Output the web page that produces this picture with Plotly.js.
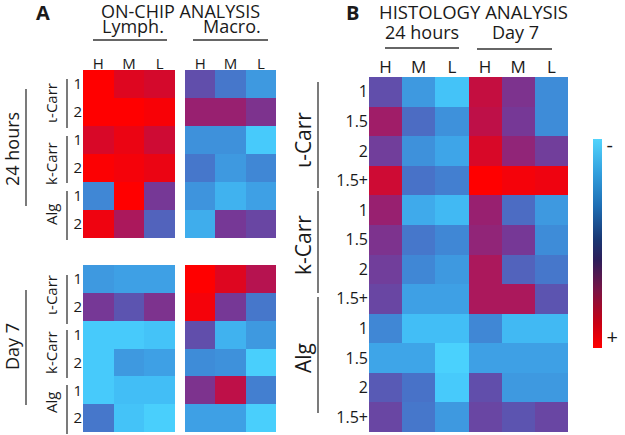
<!DOCTYPE html>
<html><head><meta charset="utf-8">
<script src="https://cdn.plot.ly/plotly-3.0.1.min.js"></script>
<style>html,body{margin:0;padding:0;background:#fff}#chart{width:625px;height:435px}</style>
</head><body><div id="chart"></div>
<script>
// ---------- DATA (0 = strongest "+", 1 = strongest "-") ----------
const doseCols = ['H', 'M', 'L'];
const onChipRowLabels = ['1', '2', '1', '2', '1', '2'];
const onChipGroups = ['ι-Carr', 'k-Carr', 'Alg'];
const timeGroups = ['24 hours', 'Day 7'];
const cellTypes = ['Lymph.', 'Macro.'];

const lymph24h = [
  [0.00, 0.10, 0.13],
  [0.00, 0.00, 0.02],
  [0.12, 0.06, 0.15],
  [0.01, 0.03, 0.06],
  [0.68, 0.00, 0.40],
  [0.05, 0.25, 0.55]
];
const macro24h = [
  [0.48, 0.62, 0.75],
  [0.30, 0.30, 0.38],
  [0.72, 0.72, 0.95],
  [0.62, 0.75, 0.68],
  [0.73, 0.85, 0.78],
  [0.83, 0.40, 0.45]
];
const lymphDay7 = [
  [0.75, 0.78, 0.78],
  [0.40, 0.50, 0.38],
  [0.95, 0.95, 0.92],
  [0.95, 0.75, 0.78],
  [0.95, 0.90, 0.90],
  [0.62, 0.92, 0.97]
];
const macroDay7 = [
  [0.00, 0.10, 0.22],
  [0.03, 0.40, 0.62],
  [0.48, 0.85, 0.75],
  [0.70, 0.72, 0.97],
  [0.38, 0.20, 0.65],
  [0.78, 0.78, 0.97]
];

const histColLabels = ['H', 'M', 'L', 'H', 'M', 'L'];
const histRowLabels = ['1', '1.5', '2', '1.5+', '1', '1.5', '2', '1.5+', '1', '1.5', '2', '1.5+'];
const histGroups = ['ι-Carr', 'k-Carr', 'Alg'];
const histology = [
  [0.48, 0.75, 0.92, 0.18, 0.38, 0.70],
  [0.28, 0.58, 0.72, 0.20, 0.40, 0.70],
  [0.42, 0.72, 0.80, 0.12, 0.32, 0.42],
  [0.15, 0.60, 0.65, 0.00, 0.03, 0.05],
  [0.30, 0.82, 0.88, 0.30, 0.58, 0.75],
  [0.38, 0.62, 0.68, 0.32, 0.40, 0.70],
  [0.42, 0.68, 0.75, 0.25, 0.55, 0.62],
  [0.45, 0.78, 0.78, 0.25, 0.25, 0.50],
  [0.68, 0.90, 0.90, 0.68, 0.88, 0.88],
  [0.80, 0.80, 0.98, 0.78, 0.78, 0.78],
  [0.52, 0.60, 0.95, 0.48, 0.75, 0.75],
  [0.45, 0.62, 0.75, 0.45, 0.50, 0.45]
];
const scaleLabels = ['+', '-'];

// ---------- STYLE ----------
const W = 625, H = 435;
const px = x => x / W;
const py = y => 1 - y / H;
const FONT = 'Open Sans, Noto Sans, sans-serif';
const TXT = '#1a1a1a';

const cellScale = [
  [0.00, 'rgb(255,0,0)'],
  [0.10, 'rgb(222,6,32)'],
  [0.20, 'rgb(190,16,72)'],
  [0.30, 'rgb(152,32,112)'],
  [0.40, 'rgb(118,56,150)'],
  [0.50, 'rgb(92,84,176)'],
  [0.60, 'rgb(72,114,200)'],
  [0.70, 'rgb(62,140,216)'],
  [0.80, 'rgb(62,165,232)'],
  [0.90, 'rgb(66,190,246)'],
  [1.00, 'rgb(76,214,255)']
];
const barScale = [
  [0.00, 'rgb(255,0,0)'],
  [0.12, 'rgb(200,0,20)'],
  [0.28, 'rgb(120,20,70)'],
  [0.42, 'rgb(45,30,90)'],
  [0.52, 'rgb(25,55,115)'],
  [0.68, 'rgb(30,110,180)'],
  [0.84, 'rgb(50,160,222)'],
  [1.00, 'rgb(82,212,252)']
];

function hm(z, xa, ya) {
  return {type: 'heatmap', z: z, xaxis: xa, yaxis: ya, zmin: 0, zmax: 1,
    colorscale: cellScale, showscale: false, hoverinfo: 'skip'};
}

const traces = [
  hm(lymph24h, 'x', 'y'),
  hm(macro24h, 'x2', 'y2'),
  hm(lymphDay7, 'x3', 'y3'),
  hm(macroDay7, 'x4', 'y4'),
  hm(histology, 'x5', 'y5'),
  {type: 'scatter', mode: 'markers', x: [null], y: [null], xaxis: 'x5', yaxis: 'y5',
   hoverinfo: 'skip', showlegend: false,
   marker: {color: [0], cmin: 0, cmax: 1, colorscale: barScale, showscale: true,
     colorbar: {thickness: 9, len: 209 / H, lenmode: 'fraction', x: px(593), xanchor: 'left',
       y: py(243.5), yanchor: 'middle', xpad: 0, ypad: 0, outlinewidth: 0, ticks: '',
       tickvals: [0.053, 0.97], ticktext: scaleLabels,
       tickfont: {family: FONT, size: 20, color: TXT}}}}
];

const rowIdxA = onChipRowLabels.map((_, i) => i);
const rowIdxB = histRowLabels.map((_, i) => i);
const colIdxA = doseCols.map((_, i) => i);
const colIdxB = histColLabels.map((_, i) => i);

function xax(dom, anchor, labels, idx, show, size, standoff) {
  return {domain: dom, anchor: anchor, side: 'top', range: [-0.5, idx.length - 0.5],
    tickmode: 'array', tickvals: idx, ticktext: labels, showticklabels: show, ticks: '',
    ticklabelstandoff: standoff,
    showgrid: false, zeroline: false, showline: false, fixedrange: true,
    tickfont: {family: FONT, size: size, color: TXT}};
}
function yax(dom, anchor, labels, idx, show, size) {
  return {domain: dom, anchor: anchor, range: [idx.length - 0.5, -0.5],
    tickmode: 'array', tickvals: idx, ticktext: labels, showticklabels: show, ticks: '',
    showgrid: false, zeroline: false, showline: false, fixedrange: true,
    tickfont: {family: FONT, size: size, color: TXT}};
}

const dLx = [px(83), px(175)], dMx = [px(185), px(276)];
const dTop = [py(238), py(70)], dBot = [py(432), py(265)];
const dBx = [px(369), px(568)], dBy = [py(432), py(77)];

function ann(text, x, y, size, opts) {
  return Object.assign({text: text, x: px(x), y: py(y), xref: 'paper', yref: 'paper',
    showarrow: false, xanchor: 'center', yanchor: 'middle', borderpad: 0,
    font: {family: FONT, size: size, color: TXT}}, opts || {});
}
function vline(x, y0, y1) {
  return {type: 'line', xref: 'paper', yref: 'paper', x0: px(x), x1: px(x), y0: py(y0), y1: py(y1),
    line: {color: '#333', width: 1.3}};
}
function hline(x0, x1, y) {
  return {type: 'line', xref: 'paper', yref: 'paper', x0: px(x0), x1: px(x1), y0: py(y), y1: py(y),
    line: {color: '#333', width: 1.3}};
}

const annotations = [
  ann('<b>A</b>', 43, 13, 20),
  ann('ON-CHIP ANALYSIS', 180, 11, 18),
  ann(cellTypes[0], 133, 26, 18),
  ann(cellTypes[1], 232, 26, 18),
  ann(timeGroups[0], 12, 149, 18, {textangle: -90}),
  ann(timeGroups[1], 12, 346, 18, {textangle: -90}),
  ann(onChipGroups[0], 51, 103, 15, {textangle: -90}),
  ann(onChipGroups[1], 51, 164, 15, {textangle: -90}),
  ann(onChipGroups[2], 51, 215, 15, {textangle: -90}),
  ann(onChipGroups[0], 51, 295, 15, {textangle: -90}),
  ann(onChipGroups[1], 51, 353, 15, {textangle: -90}),
  ann(onChipGroups[2], 51, 403, 15, {textangle: -90}),
  ann('<b>B</b>', 352, 13, 20),
  ann('HISTOLOGY ANALYSIS', 473, 11, 18.5),
  ann(timeGroups[0], 422, 32, 18),
  ann(timeGroups[1], 515, 32, 18),
  ann(histGroups[0], 303, 140, 21, {textangle: -90}),
  ann(histGroups[1], 303, 245, 21, {textangle: -90}),
  ann(histGroups[2], 303, 358, 21, {textangle: -90})
];

const shapes = [
  hline(93, 167, 40), hline(193, 268, 40),
  hline(385, 459, 48), hline(477, 552, 49),
  vline(26, 89, 206), vline(26, 290, 405),
  vline(67, 79, 128), vline(67, 136, 183), vline(67, 191, 240),
  vline(67, 275, 324), vline(67, 330, 378), vline(67, 385, 434),
  vline(318, 82, 188), vline(318, 191, 293), vline(318, 297, 413)
];

const layout = {
  width: W, height: H, margin: {l: 0, r: 0, t: 0, b: 0},
  paper_bgcolor: '#fff', plot_bgcolor: '#fff', showlegend: false,
  font: {family: FONT, color: TXT},
  xaxis: xax(dLx, 'y', doseCols, colIdxA, true, 15, -3),
  yaxis: yax(dTop, 'x', onChipRowLabels, rowIdxA, true, 15),
  xaxis2: xax(dMx, 'y2', doseCols, colIdxA, true, 15, -3),
  yaxis2: yax(dTop, 'x2', onChipRowLabels, rowIdxA, false, 15),
  xaxis3: xax(dLx, 'y3', doseCols, colIdxA, false, 15, 0),
  yaxis3: yax(dBot, 'x3', onChipRowLabels, rowIdxA, true, 15),
  xaxis4: xax(dMx, 'y4', doseCols, colIdxA, false, 15, 0),
  yaxis4: yax(dBot, 'x4', onChipRowLabels, rowIdxA, false, 15),
  xaxis5: xax(dBx, 'y5', histColLabels, colIdxB, true, 17, 0),
  yaxis5: yax(dBy, 'x5', histRowLabels, rowIdxB, true, 16),
  annotations: annotations,
  shapes: shapes
};

Plotly.newPlot('chart', traces, layout, {displayModeBar: false, staticPlot: true});
</script>
</body></html>
